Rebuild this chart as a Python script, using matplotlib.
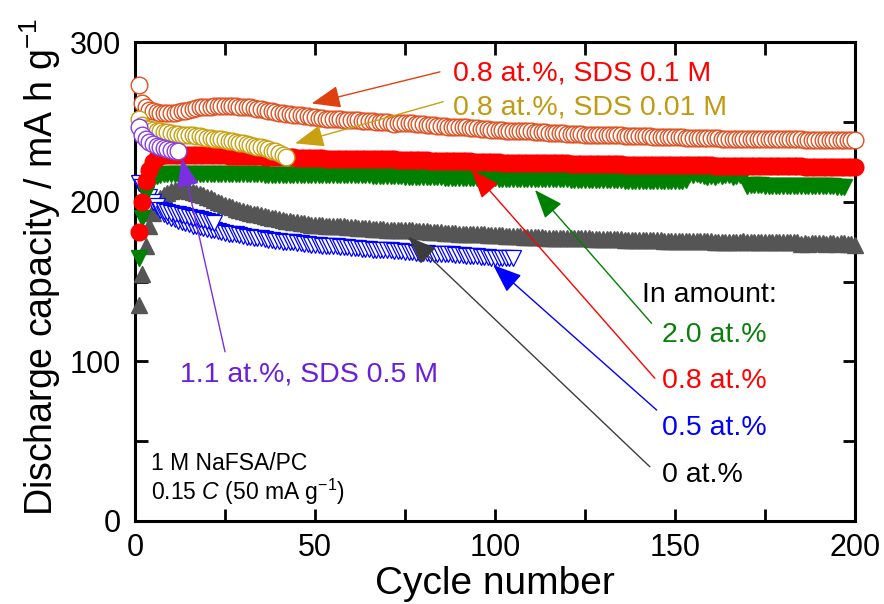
import numpy as np
import matplotlib
matplotlib.use('Agg')
import matplotlib.pyplot as plt
from matplotlib.ticker import MultipleLocator

plt.rcParams['font.family'] = ['Liberation Sans', 'DejaVu Sans']
plt.rcParams['mathtext.fontset'] = 'custom'
plt.rcParams['mathtext.rm'] = 'Liberation Sans'
plt.rcParams['mathtext.it'] = 'Liberation Sans:italic'

# Discharge capacity (mA h g-1), one value per cycle starting at cycle 1
cap_0 = [
    135, 155, 172, 185, 193, 199, 202, 204, 205.5, 206.5,
    207, 207, 207, 207, 206.5, 206, 205.5, 205, 204, 203,
    202, 201, 200, 199, 198, 197, 196.5, 195.5, 195, 194,
    193.5, 193, 192.5, 192, 191.5, 191, 190.5, 190, 189.5, 189,
    188.5, 188, 188, 187.5, 187, 186.5, 186.5, 186, 185.5, 185.5,
    185.5, 185.5, 185, 185, 185, 184.5, 184.5, 184.5, 184, 184,
    184, 183.5, 183.5, 183.5, 183.5, 183, 183, 183, 183, 182.5,
    182.5, 182.5, 182.5, 182, 182, 182, 182, 181.5, 181.5, 181.5,
    181.5, 181, 181, 181, 181, 180.5, 180.5, 180.5, 180.5, 180,
    180, 180, 180, 179.5, 179.5, 179.5, 179.5, 179, 179, 179,
    179, 179, 178.5, 178.5, 178.5, 178.5, 178.5, 178, 178, 178,
    178, 178, 178, 177.5, 177.5, 177.5, 177.5, 177.5, 177.5, 177,
    177, 177, 177, 177, 177, 177, 176.5, 176.5, 176.5, 176.5,
    176.5, 176.5, 176.5, 176.5, 176.5, 176, 176, 176, 176, 176,
    176, 176, 176, 176, 176, 176, 175.5, 175.5, 175.5, 175.5,
    175.5, 175.5, 175.5, 175.5, 175.5, 175.5, 175.5, 175.5, 175.5, 175.5,
    175, 175, 175, 175, 175, 175, 175, 175, 175.5, 175,
    175, 175, 175, 175, 175, 175, 175, 175, 174.5, 175,
    174.5, 174.5, 174.5, 174.5, 173.5, 174, 173.5, 174, 174, 174,
    174, 173.5, 174, 174, 173.5, 174, 174, 173.5, 173.5, 173,
]

cap_05 = [
    212, 209, 206, 203, 200, 197, 194.5, 192.5, 191, 190,
    189, 188, 187, 186.5, 186, 185, 184.5, 184, 183.5, 183,
    182.5, 182, 181.5, 181, 180.5, 180, 179.5, 179.5, 179, 178.5,
    178, 178, 177.5, 177, 177, 176.5, 176, 176, 175.5, 175.5,
    175, 175, 174.5, 174.5, 174, 174, 173.5, 173.5, 173, 173,
    173, 172.5, 172.5, 172, 172, 172, 171.5, 171.5, 171.5, 171,
    171, 171, 170.5, 170.5, 170.5, 170, 170, 170, 169.5, 169.5,
    169.5, 169, 169, 169, 168.5, 168.5, 168.5, 168, 168, 168,
    168, 167.5, 167.5, 167.5, 167, 167, 167, 167, 166.5, 166.5,
    166.5, 166, 166, 166, 166, 165.5, 165.5, 165.5, 165, 165,
    165, 165, 164.5, 164.5, 164.5,
]
# second trace of the 0.5 at.% cell over cycles 8-22
cycles_05b = list(range(8, 23))
cap_05b = [194, 193.5, 193, 192.5, 192, 191.5, 191, 190.5, 190, 189.5,
           189, 188.5, 188, 187, 186.5]

cap_08 = [
    181, 200, 213, 220, 225, 227.5, 228.5, 229, 229, 229,
    229, 229, 229, 229, 229, 229, 229, 229, 229, 229,
    229, 229, 229, 229, 229, 228.5, 228.5, 228.5, 228.5, 228.5,
    228.5, 228.5, 228.5, 228.5, 228.5, 228, 228, 228, 228, 228,
    228, 228, 228, 228, 227.5, 227.5, 227.5, 227.5, 227.5, 227.5,
    227.5, 227.5, 227, 227, 227, 227, 227, 227, 227, 227,
    226.5, 226.5, 226.5, 226.5, 226.5, 226.5, 226.5, 226.5, 226.5, 226.5,
    226.5, 226.5, 226, 226, 226, 226, 226, 226, 226, 226,
    226, 225.5, 225.5, 225.5, 225.5, 225.5, 225.5, 225.5, 225.5, 225.5,
    225.5, 225.5, 225.5, 225, 225, 225, 225, 225, 225, 225,
    225, 224.5, 224.5, 224.5, 224.5, 224.5, 224.5, 224.5, 224.5, 224.5,
    224.5, 224.5, 224.5, 224, 224, 224, 224, 224, 224, 224,
    223.5, 223.5, 223.5, 223.5, 223.5, 223.5, 223.5, 223.5, 223.5, 223.5,
    223.5, 223.5, 223.5, 223.5, 223.5, 223, 223, 223, 223, 223,
    223, 223, 223, 223, 223, 223, 223, 223, 223, 223,
    223, 223, 223, 223, 223, 223, 223, 223, 223, 223,
    222.5, 222.5, 222.5, 222.5, 222.5, 222.5, 222.5, 222.5, 222.5, 222.5,
    222.5, 222.5, 222.5, 222.5, 222.5, 222.5, 222.5, 222.5, 222.5, 222.5,
    222.5, 222.5, 222.5, 222.5, 222.5, 222, 222, 222, 222, 222,
    222, 222, 222, 222, 222, 222, 222, 222, 222, 222,
]

cap_20 = [
    165, 190, 205, 211, 214, 216, 217, 217.5, 217.5, 217.5,
    217.5, 217.5, 217.5, 217.5, 217.5, 217.5, 217.5, 217.5, 217.5, 217.5,
    217.5, 217.5, 217.5, 217.5, 217.5, 217.5, 217.5, 217.5, 217.5, 217.5,
    217.5, 217.5, 217.5, 217.5, 217.5, 217, 217, 217, 217, 217,
    217, 217, 217, 217, 217, 217, 217, 217, 217, 217,
    216.5, 216.5, 216.5, 216.5, 216.5, 216.5, 216.5, 216.5, 216.5, 216.5,
    216.5, 216.5, 216.5, 216.5, 216.5, 216, 216, 216, 216, 216,
    216, 216, 216, 216, 215.5, 215.5, 215.5, 215.5, 215.5, 215.5,
    215.5, 215.5, 215.5, 215.5, 215.5, 215, 215, 215, 215, 215,
    215, 215, 215, 215, 215, 215, 215, 215, 215, 215,
    214.5, 214.5, 214.5, 214.5, 214.5, 214.5, 214.5, 214.5, 214.5, 214.5,
    214, 214, 214, 214, 214, 214, 214, 214, 214, 214,
    213.5, 213.5, 213.5, 213.5, 213.5, 213.5, 213.5, 213.5, 213.5, 213.5,
    213.5, 213.5, 213.5, 213.5, 213.5, 213, 213, 213, 213, 213,
    213, 213, 213, 213, 213, 213, 213, 213, 213, 213,
    213, 213, 213.5,
    217.5, 217, 217.5, 217, 216, 215.5, 216, 215.5, 216.5, 216,
    217, 216.5, 215.5, 216, 216.5, 216,
    210, 210.5, 210.5, 210.5, 210.5, 210, 210, 210, 210, 210, 210,
    210, 210, 210, 210, 210, 209.5, 209.5, 209.5, 209.5, 209.5,
    209.5, 209.5, 209.5, 209.5, 209, 209, 209,
]

cap_sds01 = [
    273, 262, 259, 257.5, 256.5, 256, 255.5, 255.5, 255.5, 255.5,
    255.5, 256, 256.5, 257, 257.5, 258, 258.5, 259, 259, 259.5,
    259.5, 260, 260, 260, 260, 260, 260, 260, 259.5, 259.5,
    259, 259, 258.5, 258, 258, 257.5, 257, 256.5, 256, 255.5,
    255.5, 255, 255, 254.5, 254, 254, 253.5, 253.5, 253, 253,
    252.5, 252.5, 252, 252, 252, 251.5, 251.5, 251, 251, 251,
    251, 251, 250.5, 250.5, 250.5, 250.5, 250, 250, 250, 250,
    249.5, 248.5, 249.5, 249.5, 249, 249, 249, 248.5, 248.5, 248.5,
    248, 248, 248, 247.5, 247.5, 247.5, 247, 247, 247, 246.5,
    246.5, 246.5, 246, 246, 246, 245.5, 245.5, 245.5, 245, 245,
    245, 245, 244.5, 244.5, 244.5, 244.5, 244, 244, 244, 244,
    243.5, 243.5, 243.5, 243.5, 243, 243, 243, 243, 243, 242.5,
    242.5, 242.5, 242.5, 242.5, 242, 242, 242, 242, 242, 242,
    241.5, 241.5, 241.5, 241.5, 241.5, 241, 241, 241, 241, 241,
    241, 241, 241, 240.5, 240.5, 240.5, 240.5, 240.5, 240.5, 240.5,
    240.5, 240.5, 240, 240, 240, 240, 240, 240, 240, 240,
    240, 240, 239.5, 239.5, 239.5, 239.5, 239.5, 239.5, 239.5, 239.5,
    239.5, 239.5, 239.5, 239, 239, 239, 239, 239, 239, 239,
    239, 239, 239, 239, 239, 238.5, 238.5, 238.5, 238.5, 238.5,
    238.5, 238.5, 238.5, 238.5, 238.5, 238.5, 238.5, 238.5, 238.5, 238.5,
]

cap_sds001 = [
    252, 248, 246, 245.5, 245, 244.5, 244, 243.5, 243.5, 243,
    242.5, 242.5, 242, 242, 241.5, 241.5, 241, 241, 240.5, 240,
    240, 239.5, 239, 239, 238.5, 238, 238, 237.5, 237, 236.5,
    236, 235.5, 235, 234.5, 234, 233.5, 233, 232, 231.5, 230.5,
    229.5, 228,
]

cap_sds05 = [247, 242, 239.5, 237.5, 236, 235, 234, 233.5, 233, 232.5, 232, 231.5]

# Plot settings
c_gray = '#555555'
c_blue = '#0000ff'
c_green = '#008000'
c_red = '#ff0000'
c_orange = '#e05020'
c_gold = '#c8a010'
c_purple = '#8a3ce0'


def draw_series(ax, x, y, marker, edge, face, z, ms=12, mew=1.0):
    ax.plot(x, y, ls='none', marker=marker, ms=ms, mfc=face, mec=edge,
            mew=mew, zorder=z, clip_on=False)


def cycles(vals):
    return np.arange(1, len(vals) + 1)


fig = plt.figure(figsize=(8.84, 6.04), dpi=100)
ax = fig.add_axes([135 / 884, 83 / 604, 720 / 884, 479 / 604])

draw_series(ax, cycles(cap_0), cap_0, '^', c_gray, c_gray, 2, ms=11.5)
draw_series(ax, cycles(cap_05), cap_05, 'v', c_blue, 'white', 3, ms=11.5, mew=0.9)
draw_series(ax, cycles_05b, cap_05b, 'v', c_blue, 'white', 3, ms=11.5, mew=0.9)
draw_series(ax, cycles(cap_20), cap_20, 'v', c_green, c_green, 4, ms=11.5)
draw_series(ax, cycles(cap_08), cap_08, 'o', c_red, c_red, 5)
draw_series(ax, cycles(cap_sds01), cap_sds01, 'o', c_orange, 'white', 6)
draw_series(ax, cycles(cap_sds001), cap_sds001, 'o', c_gold, 'white', 7)
draw_series(ax, cycles(cap_sds05), cap_sds05, 'o', c_purple, 'white', 8)

ax.set_xlim(0, 200)
ax.set_ylim(0, 300)
ax.xaxis.set_major_locator(MultipleLocator(50))
ax.xaxis.set_minor_locator(MultipleLocator(25))
ax.yaxis.set_major_locator(MultipleLocator(100))
ax.yaxis.set_minor_locator(MultipleLocator(50))
ax.tick_params(which='both', direction='in', top=True, right=True,
               length=9, width=2, labelsize=22)
ax.tick_params(axis='x', pad=9)
ax.tick_params(axis='y', pad=10)
for s in ax.spines.values():
    s.set_linewidth(2.2)
    s.set_zorder(1)

ax.set_xlabel('Cycle number', fontsize=28)
ax.xaxis.set_label_coords(0.5, -0.094)
ax.set_ylabel(r'Discharge capacity / mA h g$^{\mathregular{-1}}$', fontsize=27)
ax.yaxis.set_label_coords(-0.1, 0.53)


def note(text, pos, color, tail=None, tip=None, arrow_color=None, size=20.5):
    ax.text(pos[0], pos[1], text, color=color, fontsize=size,
            ha='left', va='baseline', zorder=12)
    if tip is not None:
        ax.annotate('', xy=tip, xytext=tail, zorder=11,
                    arrowprops=dict(arrowstyle='-|>,head_length=0.9,head_width=0.35',
                                    color=arrow_color, lw=1.0, mutation_scale=20,
                                    shrinkA=0, shrinkB=0))


note('0.8 at.%, SDS 0.1 M', (88.2, 276.2), c_red, (84.7, 281.3), (49.1, 261.5), '#e04010')
note('0.8 at.%, SDS 0.01 M', (88.2, 254.9), '#c09a10', (85.6, 262.6), (44.5, 236.5), '#c8a010')
note('1.1 at.%, SDS 0.5 M', (12.5, 87.2), '#6a1fd8', (25, 106), (13, 227), '#7a30e0')
note('In amount:', (140.7, 137.3), 'black')
note('2.0 at.%', (146.3, 112.3), '#0a800a', (143.5, 123.8), (111.1, 207.3), c_green)
note('0.8 at.%', (146.3, 83.1), c_red, (144.4, 89.4), (93.5, 219.8), c_red)
note('0.5 at.%', (146.3, 53.9), c_blue, (144.9, 69.5), (99.5, 160.3), c_blue)
note('0 at.%', (146.3, 24.6), 'black', (143, 34), (75.9, 178), '#3c3c3c')
note('1 M NaFSA/PC', (4.4, 31.9), 'black', size=16.5)
note(r'0.15 $\mathit{C}$ (50 mA g$^{\mathregular{-1}}$)', (4.4, 13.1), 'black', size=16.5)

fig.savefig('out.png', dpi=100)
